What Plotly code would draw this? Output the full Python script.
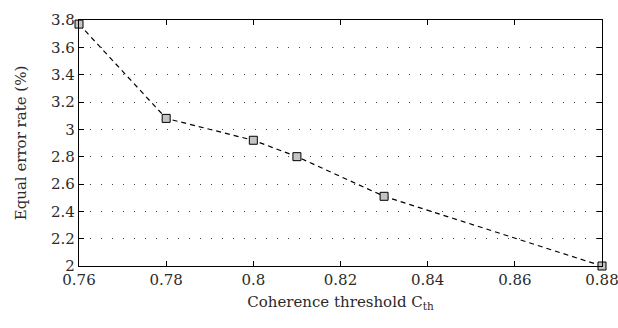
import plotly.graph_objects as go

thresholds = [0.76, 0.78, 0.80, 0.81, 0.83, 0.88]
eer = [3.77, 3.08, 2.92, 2.80, 2.51, 2.00]
x_ticks = [0.76, 0.78, 0.80, 0.82, 0.84, 0.86, 0.88]
x_tick_labels = ["0.76", "0.78", "0.8", "0.82", "0.84", "0.86", "0.88"]
y_ticks = [2, 2.2, 2.4, 2.6, 2.8, 3, 3.2, 3.4, 3.6, 3.8]
y_tick_labels = ["2", "2.2", "2.4", "2.6", "2.8", "3", "3.2", "3.4", "3.6", "3.8"]

font = "DejaVu Serif"

fig = go.Figure()
fig.add_trace(go.Scatter(
    x=thresholds, y=eer, mode="lines+markers",
    line=dict(color="black", width=1.2, dash="5px,4px"),
    marker=dict(symbol="square", size=8, color="#c4c4c4",
                line=dict(color="black", width=1)),
    cliponaxis=False, showlegend=False,
))

fig.update_layout(
    width=618, height=328,
    margin=dict(l=79, r=16, t=20, b=62),
    paper_bgcolor="white", plot_bgcolor="white",
    font=dict(family=font, size=15, color="#2a2a2a"),
    xaxis=dict(
        range=[0.76, 0.88], tickvals=x_ticks, ticktext=x_tick_labels,
        showgrid=False, zeroline=False, automargin=False,
        ticklabeloverflow="allow",
        showline=True, linecolor="black", linewidth=1.2, mirror="allticks",
        ticks="inside", ticklen=5, tickcolor="black",
        title=dict(text="Coherence threshold C<sub>th</sub>", standoff=8,
                   font=dict(size=15)),
    ),
    yaxis=dict(
        range=[2, 3.8], tickvals=y_ticks, ticktext=y_tick_labels,
        showgrid=True, gridcolor="#444", griddash="1px,10px", gridwidth=1,
        zeroline=False, automargin=False,
        ticklabeloverflow="allow",
        showline=True, linecolor="black", linewidth=1.2, mirror="allticks",
        ticks="inside", ticklen=5, tickcolor="black",
        title=dict(text="Equal error rate (%)", standoff=20,
                   font=dict(size=15)),
    ),
)

fig.write_html(
    "out.html",
    config={"displayModeBar": False},
    post_script="document.body.style.margin='0';document.body.style.overflow='hidden';",
)
